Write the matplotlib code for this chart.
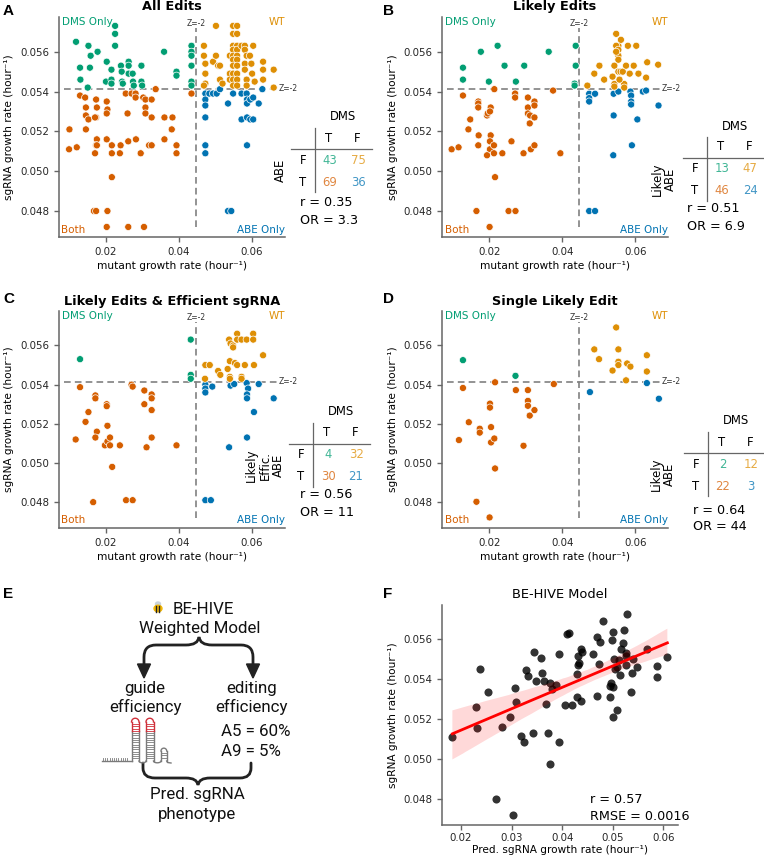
import numpy as np
import matplotlib
matplotlib.use('Agg')
import matplotlib.pyplot as plt
import seaborn as sns
from matplotlib.lines import Line2D
from matplotlib.path import Path
from matplotlib.patches import PathPatch, Polygon, Ellipse
from matplotlib.ticker import FormatStrFormatter

# ---- data ----
# A: All Edits (mutant growth rate, sgRNA growth rate)
a_mut = [0.0118, 0.0129, 0.0130, 0.0152, 0.0158, 0.0156, 0.0150, 0.0177, 0.0202, 0.0200,
         0.0225, 0.0225, 0.0225, 0.0215, 0.0215, 0.0215, 0.0241, 0.0243, 0.0244, 0.0246,
         0.0262, 0.0262, 0.0262, 0.0273, 0.0274, 0.0276, 0.0297, 0.0297, 0.0299, 0.0359,
         0.0393, 0.0393, 0.0434, 0.0434, 0.0434, 0.0434, 0.0434, 0.0434,
         0.0100, 0.0099, 0.0120, 0.0129, 0.0143, 0.0145, 0.0145, 0.0152, 0.0145, 0.0173,
         0.0173, 0.0170, 0.0175, 0.0173, 0.0170, 0.0175, 0.0167, 0.0173, 0.0204, 0.0202,
         0.0202, 0.0204, 0.0202, 0.0202, 0.0216, 0.0216, 0.0216, 0.0240, 0.0238, 0.0254,
         0.0270, 0.0281, 0.0281, 0.0259, 0.0261, 0.0282, 0.0261, 0.0304, 0.0295, 0.0302,
         0.0308, 0.0308, 0.0308, 0.0325, 0.0325, 0.0318, 0.0325, 0.0336, 0.0360, 0.0382,
         0.0380, 0.0360, 0.0393, 0.0393, 0.0434, 0.0175,
         0.0472, 0.0472, 0.0472, 0.0472, 0.0472, 0.0472, 0.0483, 0.0493, 0.0503, 0.0512,
         0.0534, 0.0548, 0.0571, 0.0585, 0.0586, 0.0586, 0.0595, 0.0603, 0.0571, 0.0586,
         0.0595, 0.0603, 0.0586, 0.0618, 0.0534, 0.0543, 0.0628,
         0.0501, 0.0548, 0.0559, 0.0548, 0.0559, 0.0468, 0.0468, 0.0472, 0.0472, 0.0472,
         0.0468, 0.0493, 0.0501, 0.0507, 0.0512, 0.0512, 0.0519, 0.0539, 0.0539, 0.0539,
         0.0548, 0.0559, 0.0548, 0.0559, 0.0548, 0.0559, 0.0548, 0.0559, 0.0548, 0.0559,
         0.0548, 0.0559, 0.0548, 0.0559, 0.0548, 0.0559, 0.0571, 0.0580, 0.0580, 0.0585,
         0.0580, 0.0580, 0.0585, 0.0585, 0.0594, 0.0598, 0.0603, 0.0600, 0.0607, 0.0630,
         0.0630, 0.0630, 0.0659, 0.0659]
a_sg = [0.0565, 0.0552, 0.0546, 0.0563, 0.0558, 0.0552, 0.0542, 0.0560, 0.0555, 0.0545,
        0.0573, 0.0569, 0.0563, 0.0551, 0.0546, 0.0544, 0.0553, 0.0550, 0.0545, 0.0544,
        0.0555, 0.0553, 0.0549, 0.0549, 0.0545, 0.0543, 0.0553, 0.0545, 0.0543, 0.0560,
        0.0550, 0.0548, 0.0563, 0.0560, 0.0558, 0.0553, 0.0545, 0.0543,
        0.0521, 0.0511, 0.0512, 0.0538, 0.0537, 0.0532, 0.0528, 0.0526, 0.0521, 0.0536,
        0.0527, 0.0527, 0.0516, 0.0513, 0.0509, 0.0513, 0.0480, 0.0480, 0.0480, 0.0472,
        0.0535, 0.0531, 0.0529, 0.0516, 0.0513, 0.0509, 0.0497, 0.0513, 0.0509, 0.0539,
        0.0539, 0.0539, 0.0537, 0.0529, 0.0515, 0.0516, 0.0472, 0.0472, 0.0509, 0.0537,
        0.0536, 0.0532, 0.0529, 0.0536, 0.0527, 0.0513, 0.0513, 0.05412, 0.0527, 0.0527,
        0.0521, 0.0516, 0.0513, 0.0509, 0.0539, 0.0532,
        0.0539, 0.0536, 0.0533, 0.0527, 0.0513, 0.0509, 0.0539, 0.0539, 0.0539, 0.05412,
        0.0534, 0.0539, 0.0539, 0.0539, 0.0536, 0.0534, 0.0536, 0.0537, 0.0526, 0.0527,
        0.0526, 0.0526, 0.0513, 0.0534, 0.0480, 0.0480, 0.05412,
        0.0573, 0.0573, 0.0573, 0.0569, 0.0569, 0.0563, 0.0558, 0.0554, 0.0549, 0.0544,
        0.0543, 0.0555, 0.0558, 0.0553, 0.0553, 0.0546, 0.0544, 0.0558, 0.0549, 0.0546,
        0.0563, 0.0563, 0.0561, 0.0561, 0.0558, 0.0558, 0.0556, 0.0556, 0.0553, 0.0553,
        0.0549, 0.0549, 0.0546, 0.0546, 0.0543, 0.0543, 0.0563, 0.0563, 0.0561, 0.0558,
        0.0554, 0.0551, 0.0546, 0.0543, 0.0558, 0.0554, 0.0563, 0.0549, 0.0545, 0.0555,
        0.0551, 0.0546, 0.0551, 0.0542]

# B: Likely Edits
b_mut = [0.0128, 0.0128, 0.0177, 0.0199, 0.0223, 0.0242, 0.0273, 0.0296, 0.0363, 0.0437,
         0.0437, 0.0434, 0.0434,
         0.0097, 0.0116, 0.0128, 0.0143, 0.0148, 0.0170, 0.0170, 0.0170, 0.0171, 0.0170,
         0.0194, 0.0196, 0.0204, 0.0204, 0.0202, 0.0202, 0.0194, 0.0216, 0.0214, 0.0213,
         0.0213, 0.0236, 0.0261, 0.0271, 0.0271, 0.0294, 0.0306, 0.0306, 0.0306, 0.0311,
         0.0312, 0.0314, 0.0324, 0.0324, 0.0324, 0.0324, 0.0375, 0.0395, 0.0165, 0.0253,
         0.0272, 0.0201, 0.0202,
         0.0474, 0.0474, 0.0474, 0.0490, 0.0541, 0.0554, 0.0587, 0.0589, 0.0589, 0.0589,
         0.0621, 0.0630, 0.0664, 0.0541, 0.0606, 0.0540, 0.0591, 0.0474, 0.0490,
         0.0469, 0.0488, 0.0502, 0.0515, 0.0543, 0.0538, 0.0543, 0.0543, 0.0554, 0.0560,
         0.0566, 0.0575, 0.0585, 0.0570, 0.0570, 0.0596, 0.0609, 0.0630, 0.0633, 0.0663,
         0.0548, 0.0554, 0.0548, 0.0554, 0.0554, 0.0561, 0.0548, 0.0554, 0.0580, 0.0557,
         0.0603]
b_sg = [0.0552, 0.0546, 0.0560, 0.0545, 0.0563, 0.0553, 0.0545, 0.0553, 0.0560, 0.0563,
        0.0553, 0.0544, 0.0543,
        0.0511, 0.0512, 0.0538, 0.0521, 0.0526, 0.0535, 0.0534, 0.0532, 0.0518, 0.0513,
        0.0528, 0.0529, 0.0532, 0.0518, 0.0515, 0.0511, 0.0508, 0.0497, 0.05412, 0.0513,
        0.0509, 0.0509, 0.0515, 0.0539, 0.0537, 0.0509, 0.0537, 0.0532, 0.0529, 0.0524,
        0.0528, 0.0511, 0.0535, 0.0533, 0.0527, 0.0513, 0.05405, 0.0509, 0.0480, 0.0480,
        0.0480, 0.0472, 0.0530,
        0.05389, 0.05367, 0.0535, 0.05389, 0.05389, 0.0540, 0.0540, 0.0538, 0.0535, 0.05335,
        0.0540, 0.05405, 0.0533, 0.0528, 0.0526, 0.0508, 0.0513, 0.0480, 0.0480,
        0.0543, 0.0549, 0.0553, 0.0546, 0.0553, 0.05475, 0.05438, 0.05425, 0.0550, 0.0550,
        0.0550, 0.0553, 0.0549, 0.05438, 0.0542, 0.0553, 0.0549, 0.0547, 0.05547, 0.05535,
        0.0569, 0.0563, 0.0563, 0.0561, 0.0558, 0.0566, 0.0560, 0.0556, 0.0563, 0.0546,
        0.0563]

# C: Likely Edits & Efficient sgRNA
c_mut = [0.0129, 0.0432, 0.0432, 0.0432,
         0.0117, 0.0129, 0.0152, 0.0144, 0.0171, 0.0171, 0.0175, 0.0171, 0.0197, 0.0202,
         0.0202, 0.0204, 0.0204, 0.0211, 0.0211, 0.0217, 0.0238, 0.0270, 0.0273, 0.0305,
         0.0305, 0.0311, 0.0325, 0.0325, 0.0325, 0.0325, 0.0393, 0.0165, 0.0255, 0.0273,
         0.0472, 0.0472, 0.0472, 0.0491, 0.0541, 0.0551, 0.0585, 0.0589, 0.0586, 0.0586,
         0.0605, 0.0618, 0.0659, 0.0537, 0.0586, 0.0472, 0.0487,
         0.0471, 0.0472, 0.0484, 0.0507, 0.0513, 0.0539, 0.0539, 0.0537, 0.0541, 0.0548,
         0.0548, 0.0559, 0.0559, 0.0571, 0.0585, 0.0603, 0.0603, 0.0539, 0.0553, 0.0559,
         0.0580, 0.0605, 0.0630, 0.0571, 0.0571, 0.0533]
c_sg = [0.0553, 0.0563, 0.0545, 0.0543,
        0.0512, 0.05387, 0.0526, 0.0521, 0.05345, 0.0533, 0.0516, 0.0513, 0.0509, 0.0530,
        0.0529, 0.0519, 0.0511, 0.0513, 0.0509, 0.0498, 0.0509, 0.0540, 0.0539, 0.0537,
        0.0530, 0.0508, 0.0535, 0.0533, 0.0527, 0.0513, 0.0509, 0.0480, 0.0481, 0.0481,
        0.0540, 0.0538, 0.0536, 0.0539, 0.05395, 0.05403, 0.05408, 0.0538, 0.0535, 0.0533,
        0.0526, 0.05403, 0.0533, 0.0508, 0.0513, 0.0481, 0.0481,
        0.0543, 0.0550, 0.0550, 0.0547, 0.0545, 0.0544, 0.0543, 0.0563, 0.0561, 0.0560,
        0.0559, 0.0566, 0.0563, 0.0563, 0.0563, 0.0566, 0.0563, 0.0552, 0.0551, 0.0550,
        0.0550, 0.0550, 0.0555, 0.0544, 0.0543, 0.0548]

# D: Single Likely Edit
d_mut = [0.0128, 0.0272,
         0.0117, 0.0128, 0.0144, 0.0174, 0.0174, 0.0202, 0.0202, 0.0205, 0.0205, 0.0214,
         0.0216, 0.0216, 0.0273, 0.0294, 0.0306, 0.0306, 0.0306, 0.0311, 0.0324, 0.0377,
         0.0165, 0.0201,
         0.0476, 0.0632, 0.0665,
         0.0488, 0.0501, 0.0538, 0.0548, 0.0554, 0.0554, 0.0554, 0.0578, 0.0587, 0.0632,
         0.0632, 0.0575]
d_sg = [0.05525, 0.05445,
        0.05117, 0.05383, 0.05208, 0.05175, 0.05155, 0.05303, 0.05283, 0.05183, 0.05105,
        0.05125, 0.05412, 0.04972, 0.05372, 0.05088, 0.05372, 0.05317, 0.05292, 0.05242,
        0.0527, 0.05403, 0.04802, 0.04722,
        0.05362, 0.05408, 0.05328,
        0.0558, 0.0553, 0.05472, 0.05692, 0.0558, 0.05517, 0.055, 0.05508, 0.05492, 0.0555,
        0.05467, 0.05422]

# F: BE-HIVE model (predicted vs observed sgRNA growth rate)
f_pred = [0.0183, 0.0229, 0.0231, 0.0238, 0.0254, 0.0282, 0.0297, 0.0307, 0.0308, 0.0319,
          0.0325, 0.0328, 0.0332, 0.0342, 0.0345, 0.0348, 0.0359, 0.0364, 0.0368, 0.0373,
          0.0375, 0.0376, 0.0379, 0.0387, 0.0394, 0.0394, 0.0406, 0.0409, 0.0414, 0.0419,
          0.0429, 0.0430, 0.0431, 0.0431, 0.0433, 0.0437, 0.0438, 0.0440, 0.0460, 0.0468,
          0.0469, 0.0473, 0.0475, 0.0481, 0.0494, 0.0494, 0.0497, 0.0500, 0.0501, 0.0499,
          0.0503, 0.0504, 0.0501, 0.0509, 0.0509, 0.0512, 0.0514, 0.0516, 0.0520, 0.0522,
          0.0526, 0.0527, 0.0527, 0.0529, 0.0536, 0.0538, 0.0541, 0.0548, 0.0568, 0.0587,
          0.0588, 0.0608, 0.0270, 0.0302, 0.0360]
f_obs = [0.05112, 0.05262, 0.05153, 0.0545, 0.05337, 0.05158, 0.05208, 0.05353, 0.05287,
         0.05115, 0.05087, 0.05445, 0.05415, 0.05128, 0.05533, 0.05392, 0.05507, 0.05392,
         0.05275, 0.05128, 0.04973, 0.0538, 0.05348, 0.0537, 0.05525, 0.05087, 0.0527,
         0.05625, 0.05632, 0.0527, 0.05308, 0.05425, 0.05517, 0.0547, 0.05482, 0.05292,
         0.05548, 0.05533, 0.05523, 0.0561, 0.05317, 0.05475, 0.05587, 0.05692, 0.05308,
         0.05365, 0.05378, 0.05208, 0.05633, 0.05595, 0.05498, 0.0545, 0.05362, 0.05245,
         0.05458, 0.05495, 0.0542, 0.05548, 0.05582, 0.05645, 0.05515, 0.0547, 0.05528,
         0.05725, 0.05333, 0.05432, 0.05502, 0.05462, 0.05548, 0.05465, 0.05408, 0.05508,
         0.04802, 0.04722, 0.05428]

# contingency tables [ABE False row, ABE True row] x [DMS T, DMS F]
counts_a = [[43, 75], [69, 36]]
counts_b = [[13, 47], [46, 24]]
counts_c = [[4, 32], [30, 21]]
counts_d = [[2, 12], [22, 3]]
r_vals = ['0.35', '0.51', '0.56', '0.64']
or_vals = ['3.3', '6.9', '11', '44']
f_r = '0.57'
f_rmse = '0.0016'

mut_z2 = 0.0447
sg_z2 = 0.05415

# ---- style ----
C_DMS = '#029e73'
C_WT = '#de8f05'
C_BOTH = '#d55e00'
C_ABE = '#0173b2'
SPINE = '0.4'

W, H = 764, 858
fig = plt.figure(figsize=(W / 100, H / 100), dpi=100)


def box(l, t, r, b):
    return [l / W, 1 - b / H, (r - l) / W, (b - t) / H]


def fx(px):
    return px / W


def fy(py):
    return 1 - py / H


def style_axes(ax):
    sns.despine(ax=ax)
    for s in ['left', 'bottom']:
        ax.spines[s].set_color(SPINE)
        ax.spines[s].set_linewidth(1.1)
    ax.tick_params(labelsize=7.4, color=SPINE, length=3.5, width=1, colors='0.15')
    ax.tick_params(color=SPINE)


def scatter_panel(ax, x, y, title):
    x = np.asarray(x)
    y = np.asarray(y)
    dms = x < mut_z2
    abe = y < sg_z2
    cols = np.where(dms & abe, C_BOTH, np.where(dms, C_DMS, np.where(abe, C_ABE, C_WT)))
    ax.scatter(x, y, s=26, c=list(cols), edgecolors='white', linewidths=0.5, zorder=3)
    ax.vlines(mut_z2, 0.0472, 0.0572, colors='0.5', linestyles=(0, (4, 2.5)), lw=1.2, zorder=2)
    ax.hlines(sg_z2, 0.0085, 0.0670, colors='0.5', linestyles=(0, (4, 2.5)), lw=1.2, zorder=2)
    ax.text(mut_z2, 0.05742, 'Z=-2', fontsize=5.5, ha='center', va='center', color='0.2')
    ax.text(0.0672, sg_z2, 'Z=-2', fontsize=5.5, ha='left', va='center', color='0.2')
    ax.set_xlim(0.00706, 0.0690)
    ax.set_ylim(0.04668, 0.05776)
    ax.set_xticks([0.02, 0.04, 0.06])
    ax.set_yticks([0.048, 0.050, 0.052, 0.054, 0.056])
    ax.xaxis.set_major_formatter(FormatStrFormatter('%.2f'))
    ax.yaxis.set_major_formatter(FormatStrFormatter('%.3f'))
    ax.set_xlabel('mutant growth rate (hour⁻¹)', fontsize=7.6, labelpad=3)
    ax.set_ylabel('sgRNA growth rate (hour⁻¹)', fontsize=7.6)
    ax.set_title(title, fontsize=9.3, weight='bold', pad=4.5)
    kw = dict(fontsize=7.5, transform=ax.transAxes)
    ax.text(0.015, 0.998, 'DMS Only', color=C_DMS, ha='left', va='top', **kw)
    ax.text(1.0, 0.998, 'WT', color=C_WT, ha='right', va='top', **kw)
    ax.text(0.012, 0.012, 'Both', color=C_BOTH, ha='left', va='bottom', **kw)
    ax.text(1.0, 0.012, 'ABE Only', color=C_ABE, ha='right', va='bottom', **kw)
    style_axes(ax)


def draw_table(vx, hy, counts, row_label, lab_dx, r, odds, st_dx, st_dy):
    def t(dx, dy, s, **kw):
        fig.text(fx(vx + dx), fy(hy + dy), s, ha='center', va='center', fontsize=8.4, **kw)
    t(28, -32, 'DMS')
    t(14, -11, 'T')
    t(42, -11, 'F')
    t(-12, 11, 'F')
    t(-12, 33, 'T')
    cell_cols = [[C_DMS, C_WT], [C_BOTH, C_ABE]]
    for i, dy in enumerate([11, 33]):
        for j, dx in enumerate([15, 43]):
            t(dx, dy, str(counts[i][j]), color=cell_cols[i][j], alpha=0.75)
    fig.text(fx(vx + lab_dx), fy(hy + 21), row_label, rotation=90, ha='center', va='center',
             multialignment='center', fontsize=8.4, linespacing=1.05)
    fig.add_artist(Line2D([fx(vx - 24), fx(vx + 57)], [fy(hy), fy(hy)], color='0.4', lw=0.9))
    fig.add_artist(Line2D([fx(vx), fx(vx)], [fy(hy - 21), fy(hy + 43)], color='0.4', lw=0.9))
    fig.text(fx(vx + st_dx), fy(hy + st_dy), 'r = ' + r, ha='left', va='center', fontsize=9.2)
    fig.text(fx(vx + st_dx), fy(hy + st_dy + 17), 'OR = ' + odds, ha='left', va='center', fontsize=9.2)


axA = fig.add_axes(box(58.7, 16.7, 285, 237.3))
axB = fig.add_axes(box(442, 16.7, 668, 237.3))
axC = fig.add_axes(box(58.7, 311, 285, 528))
axD = fig.add_axes(box(442, 311, 668, 528))
axF = fig.add_axes(box(442, 605, 678, 825))
axE = fig.add_axes([0, 0, 380 / W, 298 / H])

scatter_panel(axA, a_mut, a_sg, 'All Edits')
scatter_panel(axB, b_mut, b_sg, 'Likely Edits')
scatter_panel(axC, c_mut, c_sg, 'Likely Edits & Efficient sgRNA')
scatter_panel(axD, d_mut, d_sg, 'Single Likely Edit')

draw_table(315, 149, counts_a, 'ABE', -35, r_vals[0], or_vals[0], -15, 54)
draw_table(707, 158, counts_b, 'Likely\nABE', -43, r_vals[1], or_vals[1], -20, 51)
draw_table(313, 444, counts_c, 'Likely\nEffic.\nABE', -48, r_vals[2], or_vals[2], -13, 51)
draw_table(708, 453, counts_d, 'Likely\nABE', -45, r_vals[3], or_vals[3], -15, 57)

# ---- F: regression ----
sns.regplot(x=np.array(f_pred), y=np.array(f_obs), ax=axF, color='red', seed=0,
            scatter_kws=dict(s=34, color='black', alpha=0.8, linewidths=0),
            line_kws=dict(lw=2))
axF.set_xlim(0.01625, 0.0629)
axF.set_ylim(0.0467, 0.0577)
axF.set_xticks([0.02, 0.03, 0.04, 0.05, 0.06])
axF.set_yticks([0.048, 0.050, 0.052, 0.054, 0.056])
axF.xaxis.set_major_formatter(FormatStrFormatter('%.2f'))
axF.yaxis.set_major_formatter(FormatStrFormatter('%.3f'))
axF.set_xlabel('Pred. sgRNA growth rate (hour⁻¹)', fontsize=7.6, labelpad=1.5)
axF.set_ylabel('sgRNA growth rate (hour⁻¹)', fontsize=7.6)
axF.set_title('BE-HIVE Model', fontsize=9.4, pad=5)
axF.text(0.627, 0.118, 'r = ' + f_r, transform=axF.transAxes, fontsize=9.2, va='center')
axF.text(0.627, 0.040, 'RMSE = ' + f_rmse, transform=axF.transAxes, fontsize=9.2, va='center')
style_axes(axF)
axF.tick_params(axis='x', pad=2.5)

# ---- E: schematic ----
axE.set_xlim(0, 380)
axE.set_ylim(858, 560)
axE.axis('off')
ef = dict(family='Roboto', fontsize=12.2, ha='center', va='center', color='#111111')
axE.text(203, 609, 'BE-HIVE', **ef)
axE.text(200, 628, 'Weighted Model', **ef)
axE.text(145, 688, 'guide', **ef)
axE.text(145, 707, 'efficiency', **ef)
axE.text(252, 688, 'editing', **ef)
axE.text(252, 707, 'efficiency', **ef)
axE.text(221, 732, 'A5 = 60%', **{**ef, 'ha': 'left'})
axE.text(221, 751, 'A9 = 5%', **{**ef, 'ha': 'left'})
axE.text(197, 795, 'Pred. sgRNA', **ef)
axE.text(197, 814, 'phenotype', **ef)

# bee icon
axE.add_patch(Ellipse((158, 604), 5, 4, color='#c9d3dc', zorder=3))
axE.add_patch(Ellipse((158, 608.5), 8, 6.5, color='#f2b705', zorder=4))
for bx in [156.3, 159.2]:
    axE.plot([bx, bx], [605.5, 611.5], color='#222222', lw=1, zorder=5)

# top brace with arrows
MC, LC, CC = Path.MOVETO, Path.LINETO, Path.CURVE3
top = Path([(144, 666), (144, 657), (144, 645), (156, 645), (186, 645), (198, 645), (199, 637),
            (200, 645), (212, 645), (241, 645), (253, 645), (253, 657), (253, 666)],
           [MC, LC, CC, CC, LC, CC, CC, CC, CC, LC, CC, CC, LC])
axE.add_patch(PathPatch(top, fill=False, lw=2, color='#222222', capstyle='round'))
for ax0 in [144, 253]:
    axE.add_patch(Polygon([(ax0 - 6.5, 664), (ax0 + 6.5, 664), (ax0, 678)], closed=True,
                          color='#222222'))
bot = Path([(143, 763), (143, 768), (143, 778), (155, 778), (186, 778), (197, 778), (198, 785),
            (199, 778), (210, 778), (240, 778), (251, 778), (251, 768), (251, 763)],
           [MC, LC, CC, CC, LC, CC, CC, CC, CC, LC, CC, CC, LC])
axE.add_patch(PathPatch(bot, fill=False, lw=2, color='#222222', capstyle='round'))

# sgRNA hairpin sketch
g = '#7a7a7a'
axE.plot([102, 131.5], [761, 761], color=g, lw=1)
for hx in np.arange(103, 129, 2.2):
    axE.plot([hx, hx], [758, 761], color=g, lw=0.6)


def hairpin(x0, x1, top_y, red):
    xc = (x0 + x1) / 2
    rad = (x1 - x0) / 2
    th = np.linspace(np.pi, 0, 30)
    lx = xc + rad * np.cos(th)
    ly = top_y - rad * np.sin(th)
    loop_col = '#d0303a' if red else g
    axE.plot([x0, x0], [761, top_y + (9 if red else 0)], color=g, lw=1)
    axE.plot([x1, x1], [761, top_y + (9 if red else 0)], color=g, lw=1)
    if red:
        axE.plot([x0, x0], [top_y, top_y + 9], color=loop_col, lw=1)
        axE.plot([x1, x1], [top_y, top_y + 9], color=loop_col, lw=1)
    axE.plot(lx, ly, color=loop_col, lw=1)
    for ry in np.arange(top_y + 2, 759, 2.3):
        c = loop_col if (red and ry < top_y + 9) else g
        axE.plot([x0, x1], [ry, ry], color=c, lw=0.6)


hairpin(131.5, 139, 722, True)
hairpin(146, 153.5, 722, True)
hairpin(161, 166.7, 751, False)
th = np.linspace(0, np.pi, 20)
for xa, xb in [(139, 146), (153.5, 161)]:
    axE.plot((xa + xb) / 2 - (xb - xa) / 2 * np.cos(th), 761 + 1.8 * np.sin(th),
             color=g, lw=1)
axE.plot([166.7, 167.5, 171], [761, 762.5, 763], color=g, lw=1)

# panel letters
for lab, px, py in [('A', 3, 4), ('B', 383, 4), ('C', 3, 292), ('D', 383, 292),
                    ('E', 3, 587), ('F', 383, 587)]:
    fig.text(fx(px), fy(py), lab, ha='left', va='top', fontsize=11, weight='bold',
             family='Liberation Sans')

fig.savefig('out.png', dpi=100)
